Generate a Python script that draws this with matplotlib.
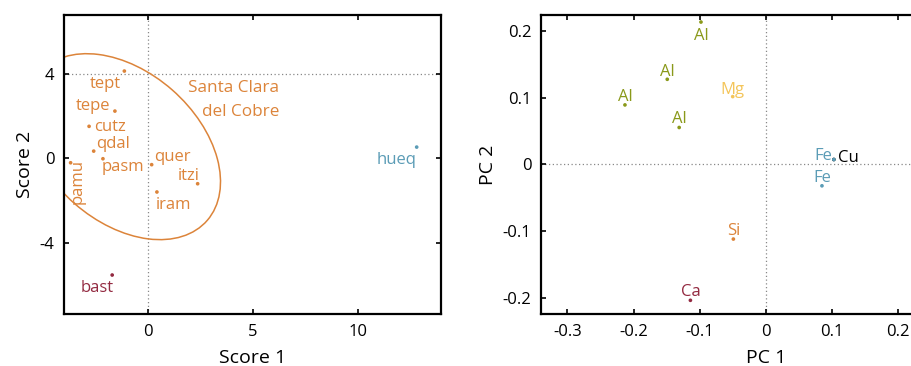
import numpy as np
import matplotlib
matplotlib.use('Agg')
import matplotlib.pyplot as plt
from matplotlib.patches import Ellipse

plt.rcParams['font.family'] = ['Open Sans', 'DejaVu Sans']
plt.rcParams['axes.unicode_minus'] = False

ORANGE = '#dc843a'
BLUE = '#5b9cb6'
RED = '#932a41'
OLIVE = '#8a991a'
YELLOW = '#f4c55a'

# sample scores (left panel)
sites = ['tept', 'tepe', 'cutz', 'qdal', 'pasm', 'pamu', 'quer', 'itzi', 'iram', 'bast', 'hueq']
score1 = [-1.11, -1.56, -2.79, -2.57, -2.13, -3.67, 0.19, 2.38, 0.44, -1.69, 12.81]
score2 = [4.12, 2.23, 1.51, 0.34, -0.02, -0.21, -0.30, -1.20, -1.59, -5.51, 0.53]
site_colors = [ORANGE] * 9 + [RED, BLUE]
# label placement: x/y offset in pixels, ha, rotation
site_lbl = [(-3, -17, 'right', 0), (-5, 1, 'right', 0), (5, -5, 'left', 0),
            (2, 3, 'left', 0), (-1, -12, 'left', 0), (15, 4, 'right', 90),
            (2, 4, 'left', 0), (2, 4, 'right', 0), (-1, -17, 'left', 0),
            (2, -17, 'right', 0), (0, -17, 'right', 0)]

# Santa Clara del Cobre group ellipse
ell_center = (-1.16, 0.55)
ell_width = 10.6
ell_height = 7.1
ell_angle = -41

# element loadings (right panel)
elements = ['Cu', 'Al', 'Al', 'Al', 'Al', 'Mg', 'Fe', 'Fe', 'Si', 'Ca']
pc1 = [0.103, -0.098, -0.149, -0.213, -0.131, -0.050, 0.103, 0.085, -0.049, -0.114]
pc2 = [0.0075, 0.214, 0.128, 0.0895, 0.0556, 0.102, 0.0075, -0.032, -0.112, -0.204]
elem_colors = ['black', OLIVE, OLIVE, OLIVE, OLIVE, YELLOW, BLUE, BLUE, ORANGE, RED]
elem_lbl = [(4, -2, 'left'), (0, -18, 'center'), (0, 3, 'center'), (0, 4, 'center'),
            (0, 4, 'center'), (0, 3, 'center'), (-2, 0, 'right'), (0, 4, 'center'),
            (0, 4, 'center'), (0, 4, 'center')]

fig = plt.figure(figsize=(9.12, 3.66), dpi=100)
ax1 = fig.add_axes([0.0705, 0.1421, 0.4131, 0.8177])
ax2 = fig.add_axes([0.5932, 0.1413, 0.4929, 0.8185])


def style(ax):
    for s in ax.spines.values():
        s.set_linewidth(1.6)
    ax.tick_params(direction='in', length=3.5, width=1.2, top=True, right=True,
                   labelsize=12, pad=7)


# left: scores
ax1.axvline(0, color='#888888', lw=0.9, ls=(0, (1, 2)), zorder=0)
ax1.axhline(4, color='#888888', lw=0.9, ls=(0, (1, 2)), zorder=0)
ax1.add_patch(Ellipse(ell_center, ell_width, ell_height, angle=ell_angle,
                      fill=False, edgecolor=ORANGE, lw=1.1))
ax1.scatter(score1, score2, s=7, c=site_colors, zorder=3, linewidths=0)
for name, x, y, c, (dx, dy, ha, rot) in zip(sites, score1, score2, site_colors, site_lbl):
    if rot:
        ax1.annotate(name, (x, y), xytext=(dx, dy), textcoords='offset pixels',
                     ha=ha, va='top', rotation=rot, color=c, fontsize=12)
    else:
        ax1.annotate(name, (x, y), xytext=(dx, dy), textcoords='offset pixels',
                     ha=ha, va='baseline', color=c, fontsize=12)
ax1.text(6.25, 3.15, 'Santa Clara', color=ORANGE, fontsize=12.3, ha='right', va='baseline')
ax1.text(6.25, 2.02, 'del Cobre', color=ORANGE, fontsize=12.3, ha='right', va='baseline')
ax1.set_xlim(-3.97, 13.97)
ax1.set_ylim(-7.35, 6.78)
ax1.set_xticks([0, 5, 10])
ax1.set_yticks([-4, 0, 4])
ax1.set_xlabel('Score 1', fontsize=14, labelpad=6.5)
ax1.set_ylabel('Score 2', fontsize=14, labelpad=4)
style(ax1)

# right: loadings
ax2.axvline(0, color='#888888', lw=0.9, ls=(0, (1, 2)), zorder=0)
ax2.axhline(0, color='#888888', lw=0.9, ls=(0, (1, 2)), zorder=0)
ax2.scatter(pc1, pc2, s=7, c=elem_colors, zorder=3, linewidths=0)
for name, x, y, c, (dx, dy, ha) in zip(elements, pc1, pc2, elem_colors, elem_lbl):
    ax2.annotate(name, (x, y), xytext=(dx, dy), textcoords='offset pixels',
                 ha=ha, va='baseline', color=c, fontsize=12)
ax2.set_xlim(-0.34, 0.34)
ax2.set_ylim(-0.225, 0.225)
ax2.set_xticks([-0.3, -0.2, -0.1, 0, 0.1, 0.2])
ax2.set_xticklabels(['-0.3', '-0.2', '-0.1', '0', '0.1', '0.2'])
ax2.set_yticks([-0.2, -0.1, 0, 0.1, 0.2])
ax2.set_yticklabels(['-0.2', '-0.1', '0', '0.1', '0.2'])
ax2.set_xlabel('PC 1', fontsize=14, labelpad=6.5)
ax2.set_ylabel('PC 2', fontsize=14, labelpad=4)
style(ax2)

fig.savefig('out.png', dpi=100)
